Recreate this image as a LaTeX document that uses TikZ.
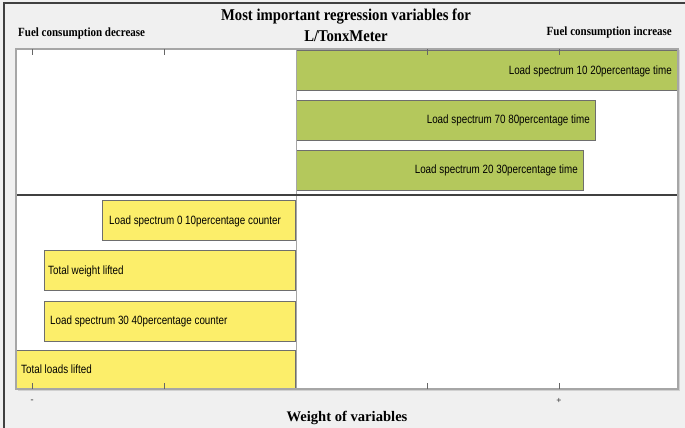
\documentclass[tikz,border=0pt]{standalone}
\usepackage{fontspec}
\usepackage{graphicx}
\setmainfont{Liberation Serif}
\newfontfamily\labelfont{Liberation Sans}
\definecolor{panelbg}{HTML}{F0F0F0}
\definecolor{posbar}{HTML}{B4C85C}
\definecolor{negbar}{HTML}{FCEE6A}
\definecolor{baredge}{HTML}{6E6E6E}
\definecolor{frameedge}{HTML}{A6A6A6}
\newcommand{\narrow}[2]{\scalebox{#1}[1]{#2}}
\tikzset{
  posbox/.style={draw=baredge, line width=0.8pt, fill=posbar, inner sep=0pt, anchor=north west},
  negbox/.style={draw=baredge, line width=0.8pt, fill=negbar, inner sep=0pt, anchor=north east},
  barlabel/.style={inner sep=0pt, font=\labelfont\fontsize{12}{13}\selectfont},
  headlabel/.style={inner sep=0pt, font=\bfseries\fontsize{12.5}{13}\selectfont},
  ticklabel/.style={inner sep=0pt, font=\bfseries\fontsize{9}{10}\selectfont, text=black!80},
  axistick/.style={draw=black!60, line width=0.6pt}
}
\begin{document}
\begin{tikzpicture}[x=1pt, y=-1pt]
  \useasboundingbox (0,0) rectangle (685,428);
  % figure background and outer frame
  \fill[panelbg] (0,0) rectangle (685,428);
  \draw[black!75, line width=1.2pt] (4,428) -- (4,3) -- (685,3);

  % plot area with soft shadow
  \fill[black!18] (17.5,50.5) rectangle (679.5,391);
  \fill[white] (16,49) rectangle (678,389);

  % positive (increase) bars
  \node[posbox, minimum width=382pt, minimum height=40pt] (g1) at (296,50) {};
  \node[posbox, minimum width=299pt, minimum height=40pt] (g2) at (296,100) {};
  \node[posbox, minimum width=287pt, minimum height=40pt] (g3) at (296,149.5) {};
  \node[barlabel, anchor=east] (tg1) at (672,71) {\narrow{0.82}{Load spectrum 10 20percentage time}};
  \node[barlabel, anchor=east] (tg2) at (590,120.5) {\narrow{0.82}{Load spectrum 70 80percentage time}};
  \node[barlabel, anchor=east] (tg3) at (578,170.5) {\narrow{0.82}{Load spectrum 20 30percentage time}};

  % negative (decrease) bars
  \node[negbox, minimum width=193pt, minimum height=40pt] (y1) at (296,200) {};
  \node[negbox, minimum width=251pt, minimum height=40pt] (y2) at (296,250) {};
  \node[negbox, minimum width=251pt, minimum height=40pt] (y3) at (296,300.5) {};
  \node[negbox, minimum width=280pt, minimum height=39pt] (y4) at (296,350) {};
  \node[barlabel, anchor=west] (ty1) at (109,221) {\narrow{0.82}{Load spectrum 0 10percentage counter}};
  \node[barlabel, anchor=west] (ty2) at (48,271) {\narrow{0.82}{Total weight lifted}};
  \node[barlabel, anchor=west] (ty3) at (50,321) {\narrow{0.82}{Load spectrum 30 40percentage counter}};
  \node[barlabel, anchor=west] (ty4) at (21,369) {\narrow{0.82}{Total loads lifted}};

  % zero line and group divider
  \draw[frameedge, line width=1pt] (296,49) -- (296,389);
  \draw[black!75, line width=1.4pt] (16,195) -- (678,195);

  % plot frame
  \draw[frameedge, line width=1.2pt] (16,49) rectangle (678,389);

  % ticks on top and bottom edges
  \foreach \tx in {32,164,427,559} {
    \draw[axistick] (\tx,49) -- (\tx,55);
    \draw[axistick] (\tx,389) -- (\tx,383);
  }
  \node[ticklabel] (tminus) at (32,401) {-};
  \node[ticklabel] (tplus) at (559,401) {+};

  % titles
  \node[inner sep=0pt, font=\bfseries\fontsize{16.5}{17}\selectfont] (title1) at (346,17) {\narrow{0.89}{Most important regression variables for}};
  \node[inner sep=0pt, font=\bfseries\fontsize{16.5}{17}\selectfont] (title2) at (346,36) {\narrow{0.89}{L/TonxMeter}};
  \node[headlabel, anchor=west] (hdec) at (18,33) {\narrow{0.88}{Fuel consumption decrease}};
  \node[headlabel, anchor=east] (hinc) at (672,32) {\narrow{0.88}{Fuel consumption increase}};
  \node[inner sep=0pt, font=\bfseries\fontsize{14.6}{15}\selectfont] (xlabel) at (347,418) {Weight of variables};
\end{tikzpicture}
\end{document}
